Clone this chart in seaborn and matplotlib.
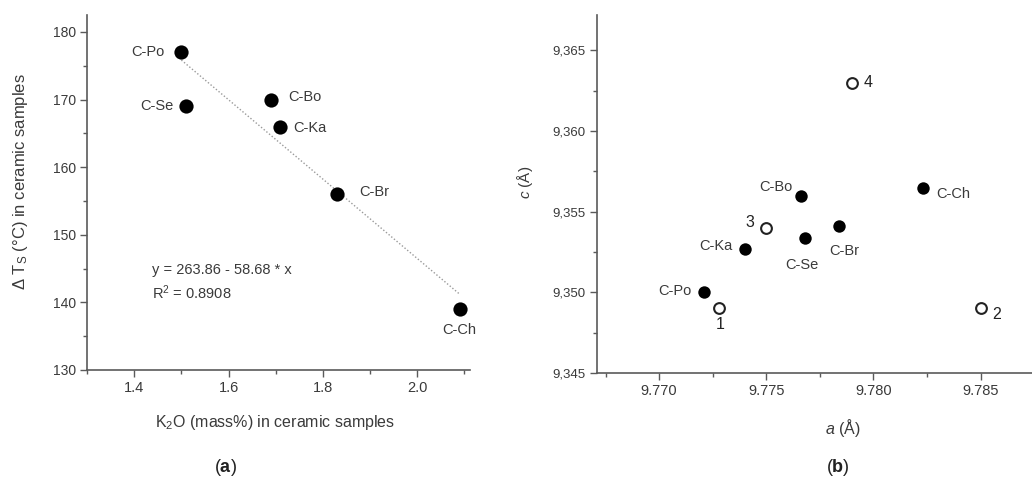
import numpy as np
import pandas as pd
import matplotlib
matplotlib.use("Agg")
import matplotlib.pyplot as plt
from matplotlib.ticker import MultipleLocator, FuncFormatter
import seaborn as sns

# ---------------- data ----------------
# panel (a)
a_samples = ["C-Po", "C-Se", "C-Bo", "C-Ka", "C-Br", "C-Ch"]
a_k2o = [1.50, 1.51, 1.69, 1.71, 1.83, 2.09]
a_dts = [177, 169, 170, 166, 156, 139]
fit_intercept = 263.86
fit_slope = -58.68
fit_r2 = 0.8908

# panel (b) filled points (ceramic samples)
b_samples = ["C-Po", "C-Ka", "C-Bo", "C-Se", "C-Br", "C-Ch"]
b_a = [9.7721, 9.7740, 9.7766, 9.7768, 9.7784, 9.7823]
b_c = [9.3500, 9.3527, 9.3560, 9.3534, 9.3541, 9.3565]
# panel (b) open points (references)
ref_labels = ["1", "2", "3", "4"]
ref_a = [9.7728, 9.7850, 9.7750, 9.7790]
ref_c = [9.3490, 9.3490, 9.3540, 9.3630]

# ---------------- style ----------------
sns.set_style("ticks")
plt.rcParams["font.family"] = ["Liberation Sans", "DejaVu Sans"]
plt.rcParams["mathtext.fontset"] = "custom"
plt.rcParams["mathtext.rm"] = "Liberation Sans"
plt.rcParams["mathtext.it"] = "Liberation Sans:italic"
plt.rcParams["mathtext.bf"] = "Liberation Sans:bold"
TXT = "#3a3a3a"
AX = "#5a5a5a"

fig = plt.figure(figsize=(10.32, 4.79), dpi=100)
W, H = 1032, 479


def axes_px(l, t, r, b):
    return fig.add_axes([l / W, 1 - b / H, (r - l) / W, (b - t) / H])


def style_axes(ax, xsize, ysize):
    for s in ["top", "right"]:
        ax.spines[s].set_visible(False)
    for s in ["left", "bottom"]:
        ax.spines[s].set_color(AX)
        ax.spines[s].set_linewidth(1.2)
    ax.tick_params(which="major", direction="out", length=5, width=1.0,
                   color=AX, labelcolor=TXT, pad=3)
    ax.tick_params(which="minor", direction="out", length=3, width=1.0, color=AX)
    ax.tick_params(axis="x", labelsize=xsize)
    ax.tick_params(axis="y", labelsize=ysize)
    ax.set_facecolor("white")


# ---------------- panel (a) ----------------
ax1 = axes_px(87, 15, 470, 370)
df_a = pd.DataFrame({"k2o": a_k2o, "dts": a_dts, "s": a_samples})
fit_x = [min(a_k2o), max(a_k2o)]
fit_y = [fit_intercept + fit_slope * v for v in fit_x]
sns.lineplot(x=fit_x, y=fit_y, ax=ax1, color="#9a9a9a", linestyle=(0, (1, 1.5)),
             linewidth=1.0, zorder=1)
sns.scatterplot(data=df_a, x="k2o", y="dts", ax=ax1, color="black", s=105,
                edgecolor="black", linewidth=0, zorder=3)
ax1.set_xlim(1.30, 2.112)
ax1.set_ylim(130, 182.5)
ax1.xaxis.set_major_locator(MultipleLocator(0.2))
ax1.xaxis.set_minor_locator(MultipleLocator(0.1))
ax1.yaxis.set_major_locator(MultipleLocator(10))
ax1.yaxis.set_minor_locator(MultipleLocator(5))
ax1.xaxis.set_major_formatter(FuncFormatter(lambda v, p: f"{v:.1f}"))
style_axes(ax1, 10.5, 10)
ax1.set_xlabel(r"K$_2$O (mass%) in ceramic samples", fontsize=11.5, color=TXT)
ax1.set_ylabel(r"$\Delta$ T$_\mathrm{S}$ (°C) in ceramic samples", fontsize=12, color=TXT)
ax1.xaxis.set_label_coords(0.49, -0.122)
ax1.yaxis.set_label_coords(-0.15, 0.53)

a_offsets = {  # (dx, dy) in px, ha, va
    "C-Po": (-17, 0, "right", "center"),
    "C-Se": (-13, 0, "right", "center"),
    "C-Bo": (17, 3, "left", "center"),
    "C-Ka": (13, -1, "left", "center"),
    "C-Br": (22, 2, "left", "center"),
    "C-Ch": (0, -21, "center", "center"),
}
for s, x, y in zip(a_samples, a_k2o, a_dts):
    dx, dy, ha, va = a_offsets[s]
    ax1.annotate(s, (x, y), xytext=(dx * 0.72, dy * 0.72), textcoords="offset points",
                 ha=ha, va=va, fontsize=10.5, color=TXT)

fig.text(152 / W, 1 - 270 / H, f"y = {fit_intercept:.2f} - {abs(fit_slope):.2f} * x",
         fontsize=10.5, color=TXT, ha="left", va="center")
fig.text(152 / W, 1 - 293 / H, f"R$^2$ = {fit_r2:.4f}",
         fontsize=10.5, color=TXT, ha="left", va="center")

# ---------------- panel (b) ----------------
ax2 = axes_px(597, 15, 1032, 373)
df_b = pd.DataFrame({"a": b_a, "c": b_c, "s": b_samples})
df_r = pd.DataFrame({"a": ref_a, "c": ref_c, "s": ref_labels})
sns.scatterplot(data=df_b, x="a", y="c", ax=ax2, color="black", s=80,
                edgecolor="black", linewidth=0, zorder=3)
sns.scatterplot(data=df_r, x="a", y="c", ax=ax2, facecolor="white", s=60,
                edgecolor="#222222", linewidth=1.5, zorder=3)
ax2.set_xlim(9.7671, 9.7874)
ax2.set_ylim(9.345, 9.3672)
ax2.xaxis.set_major_locator(MultipleLocator(0.005))
ax2.xaxis.set_minor_locator(MultipleLocator(0.0025))
ax2.yaxis.set_major_locator(MultipleLocator(0.005))
ax2.yaxis.set_minor_locator(MultipleLocator(0.0025))
ax2.xaxis.set_major_formatter(FuncFormatter(lambda v, p: f"{v:.3f}"))
ax2.yaxis.set_major_formatter(FuncFormatter(lambda v, p: f"{v:.3f}".replace(".", ",")))
style_axes(ax2, 10.5, 9.5)
ax2.set_xlabel(r"$a$ (Å)", fontsize=11.5, color=TXT)
ax2.set_ylabel(r"$c$ (Å)", fontsize=11, color=TXT)
ax2.xaxis.set_label_coords(0.566, -0.122)
ax2.yaxis.set_label_coords(-0.143, 0.533)

b_offsets = {
    "C-Po": (-13, 1, "right", "center"),
    "C-Ka": (-12, 2.5, "right", "center"),
    "C-Bo": (-8, 9, "right", "center"),
    "C-Se": (-3, -27, "center", "center"),
    "C-Br": (5, -25, "center", "center"),
    "C-Ch": (14, -6, "left", "center"),
}
for s, x, y in zip(b_samples, b_a, b_c):
    dx, dy, ha, va = b_offsets[s]
    ax2.annotate(s, (x, y), xytext=(dx * 0.72, dy * 0.72), textcoords="offset points",
                 ha=ha, va=va, fontsize=10.5, color=TXT)

r_offsets = {
    "1": (1, -16, "center", "center"),
    "2": (12, -6, "left", "center"),
    "3": (-16, 5, "center", "center"),
    "4": (12, 0, "left", "center"),
}
for s, x, y in zip(ref_labels, ref_a, ref_c):
    dx, dy, ha, va = r_offsets[s]
    ax2.annotate(s, (x, y), xytext=(dx * 0.72, dy * 0.72), textcoords="offset points",
                 ha=ha, va=va, fontsize=11.5, color="#222222")

# panel letters
fig.text(225 / W, 1 - 467 / H, r"($\mathbf{a}$)", fontsize=13, color="#222222",
         ha="center", va="center")
fig.text(838 / W, 1 - 467 / H, r"($\mathbf{b}$)", fontsize=13, color="#222222",
         ha="center", va="center")

fig.savefig("out.png", dpi=100, facecolor="white")
